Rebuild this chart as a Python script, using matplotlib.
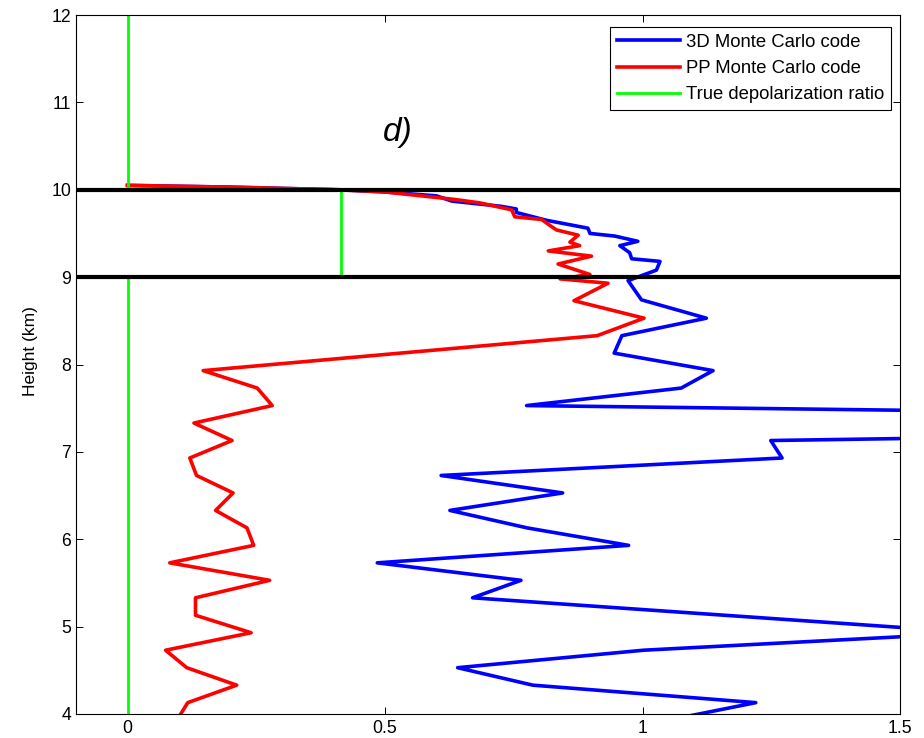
import matplotlib
matplotlib.use("Agg")
import matplotlib.pyplot as plt

plt.rcParams['font.family'] = ['Liberation Sans', 'DejaVu Sans']

# depolarization ratio profiles (x) against height in km
h_pp = [10.05, 10.03, 10.00, 9.975, 9.89, 9.85, 9.77, 9.69, 9.66, 9.58, 9.54,
        9.48, 9.40, 9.36, 9.30, 9.24, 9.15, 9.03, 8.98, 8.93, 8.73, 8.53, 8.33,
        7.93, 7.73, 7.53, 7.33, 7.13, 6.93, 6.73, 6.53, 6.33, 6.13, 5.93, 5.73,
        5.53, 5.33, 5.13, 4.93, 4.73, 4.53, 4.33, 4.13, 3.93]
d_pp = [0.0, 0.2, 0.41, 0.5, 0.634, 0.684, 0.746, 0.752, 0.804, 0.823, 0.833,
        0.875, 0.859, 0.878, 0.817, 0.901, 0.836, 0.898, 0.84, 0.933, 0.867, 1.003, 0.912,
        0.147, 0.252, 0.281, 0.129, 0.203, 0.121, 0.134, 0.205, 0.171, 0.232, 0.245, 0.082,
        0.276, 0.132, 0.132, 0.240, 0.074, 0.115, 0.212, 0.117, 0.096]

h_3d = [10.05, 10.03, 10.00, 9.975, 9.93, 9.87, 9.81, 9.78, 9.74, 9.65, 9.56,
        9.50, 9.47, 9.41, 9.36, 9.28, 9.21, 9.18, 9.08, 8.96, 8.74, 8.53, 8.33,
        8.13, 7.93, 7.73, 7.53, 7.33, 7.13, 6.93, 6.73, 6.53, 6.33, 6.13, 5.93,
        5.73, 5.53, 5.33, 4.93, 4.73, 4.53, 4.33, 4.13, 3.93]
d_3d = [0.0, 0.2, 0.41, 0.5, 0.60, 0.63, 0.726, 0.755, 0.755, 0.814, 0.894,
        0.898, 0.946, 0.991, 0.956, 0.975, 0.979, 1.034, 1.027, 0.972, 0.998, 1.124, 0.960,
        0.945, 1.137, 1.075, 0.775, 3.5, 1.249, 1.271, 0.609, 0.845, 0.626, 0.776, 0.973,
        0.485, 0.764, 0.670, 1.65, 1.002, 0.641, 0.787, 1.220, 1.05]

# true profile: depolarizing layer between cloud base and top
h_true = [12, 10, 10, 9, 9, 4]
d_true = [0, 0, 0.415, 0.415, 0, 0]
cloud_base, cloud_top = 9, 10

fig = plt.figure(figsize=(9.24, 7.38), dpi=100)
ax = fig.add_axes([76/924, 24/738, 824/924, 699/738])

ax.plot(d_3d, h_3d, color='#0000ff', lw=2.6, label='3D Monte Carlo code')
ax.plot(d_pp, h_pp, color='#ff0000', lw=2.6, label='PP Monte Carlo code')
ax.plot(d_true, h_true, color='#00ff00', lw=2.0, label='True depolarization ratio')
ax.axhline(cloud_top, color='black', lw=3.0)
ax.axhline(cloud_base, color='black', lw=3.0)

ax.text(0.525, 10.65, 'd)', fontsize=24, style='italic', ha='center', va='center')

ax.set_xlim(-0.1, 1.5)
ax.set_ylim(4, 12)
ax.set_xticks([0, 0.5, 1, 1.5])
ax.set_xticklabels(['0', '0.5', '1', '1.5'])
ax.set_yticks(range(4, 13))
ax.tick_params(direction='in', top=True, right=True, length=5, width=0.7,
               labelsize=12.7)
ax.tick_params(axis='x', pad=4.0)
ax.tick_params(axis='y', pad=3.5)
for s in ax.spines.values():
    s.set_linewidth(0.8)

ax.set_ylabel('Height (km)', fontsize=12.5)
ax.yaxis.set_label_coords(-0.046, 0.519)

leg = ax.legend(loc='upper right', bbox_to_anchor=(0.989, 0.983), borderaxespad=0,
                fontsize=13.3, fancybox=False, framealpha=1, edgecolor='black',
                handlelength=3.4, handletextpad=0.3, borderpad=0.38, labelspacing=0.5)
leg.get_frame().set_linewidth(0.8)

fig.savefig('out.png', dpi=100)
